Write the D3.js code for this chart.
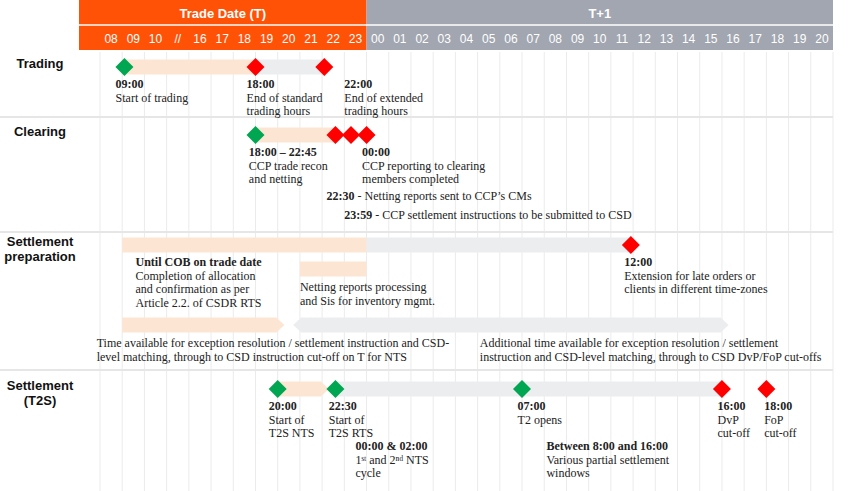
<!DOCTYPE html>
<html><head><meta charset="utf-8">
<script src="https://cdn.jsdelivr.net/npm/d3@7"></script>
<style>body{margin:0;background:#fff}svg{display:block}</style>
</head><body><div id="chart"></div>
<script>
// hour columns: T (trade date) then T+1
const hoursT = ['08','09','10','//','16','17','18','19','20','21','22','23'];
const hoursT1 = ['00','01','02','03','04','05','06','07','08','09','10','11','12','13','14','15','16','17','18','19','20'];
const rowNames = [['Trading'], ['Clearing'], ['Settlement', 'preparation'], ['Settlement', '(T2S)']];

// positions in column units (0 = left edge of the "08" column)
const bars = [
  { row: 0, from: 1.1, to: 7, kind: 'o' },
  { row: 0, from: 7, to: 10.1, kind: 'g' },
  { row: 1, from: 7, to: 10.6, kind: 'o' },
  { row: 2, from: 1, to: 12, kind: 'o' },
  { row: 2, from: 12, to: 23.9, kind: 'g' },
  { row: 2, from: 9, to: 12, kind: 'o', dy: 24 },
  { row: 2, from: 1, to: 8.3, kind: 'o', dy: 80, arrow: 'r' },
  { row: 2, from: 8.7, to: 28.3, kind: 'g', dy: 80, arrow: 'l' },
  { row: 3, from: 8, to: 10.3, kind: 'o', arrow: 'r' },
  { row: 3, from: 10.6, to: 28, kind: 'g' }
];
const marks = [
  { row: 0, at: 1.1, c: 'green' }, { row: 0, at: 7, c: 'red' }, { row: 0, at: 10.1, c: 'red' },
  { row: 1, at: 7, c: 'green' }, { row: 1, at: 10.6, c: 'red' }, { row: 1, at: 11.3, c: 'red' }, { row: 1, at: 12, c: 'red' },
  { row: 2, at: 23.9, c: 'red' },
  { row: 3, at: 8, c: 'green' }, { row: 3, at: 10.6, c: 'green' }, { row: 3, at: 19, c: 'green' },
  { row: 3, at: 28, c: 'red' }, { row: 3, at: 30, c: 'red' }
];
// notes: [row, column pos, line offset, bold head, lines...]
const notes = [
  [0, 0.7, 0, '09:00', 'Start of trading'],
  [0, 6.6, 0, '18:00', 'End of standard', 'trading hours'],
  [0, 11.0, 0, '22:00', 'End of extended', 'trading hours'],
  [1, 6.7, 0, '18:00 – 22:45', 'CCP trade recon', 'and netting'],
  [1, 11.8, 0, '00:00', 'CCP reporting to clearing', 'members completed'],
  [2, 1.6, 0, 'Until COB on trade date', 'Completion of allocation', 'and confirmation as per', 'Article 2.2. of CSDR RTS'],
  [2, 23.6, 0, '12:00', 'Extension for late orders or', 'clients in different time-zones'],
  [3, 7.6, 0, '20:00', 'Start of', 'T2S NTS'],
  [3, 10.3, 0, '22:30', 'Start of', 'T2S RTS'],
  [3, 11.5, 40, '00:00 & 02:00', '1ˢᵗ and 2ⁿᵈ NTS', 'cycle'],
  [3, 18.8, 0, '07:00', 'T2 opens'],
  [3, 20.1, 40, 'Between 8:00 and 16:00', 'Various partial settlement', 'windows'],
  [3, 27.8, 0, '16:00', 'DvP', 'cut-off'],
  [3, 29.9, 0, '18:00', 'FoP', 'cut-off']
];
const inline = [
  [1, 10.2, 65, '22:30', ' - Netting reports sent to CCP’s CMs'],
  [1, 11.0, 84, '23:59', ' - CCP settlement instructions to be submitted to CSD']
];
const plain = [
  [2, 9.0, 46, 'Netting reports processing', 'and Sis for inventory mgmt.'],
  [2, -0.15, 102, 'Time available for exception resolution / settlement instruction and CSD-', 'level matching, through to CSD instruction cut-off on T for NTS'],
  [2, 17.1, 102, 'Additional time available for exception resolution / settlement', 'instruction and CSD-level matching, through to CSD DvP/FoP cut-offs']
];

const W = 850, H = 491;
const rowTop = [52, 117, 232, 370];
const rowMark = [67, 135, 245, 389];
const nCols = hoursT.length + hoursT1.length;
const x = d3.scaleLinear().domain([0, nCols]).range([100, 833]);
const col = d3.scaleBand().domain(d3.range(nCols)).range([100, 833]);
const colors = { o: '#fde5d3', g: '#ecedef', green: '#00a651', red: '#ff0000' };
const serif = '"Liberation Serif", "DejaVu Serif", serif';

const svg = d3.select('#chart').append('svg').attr('width', W).attr('height', H)
  .style('font-family', 'Arial, "Liberation Sans", sans-serif');

// grid
svg.append('g').selectAll('line').data(d3.range(nCols + 1)).join('line')
  .attr('x1', d => x(d)).attr('x2', d => x(d)).attr('y1', 52).attr('y2', H)
  .attr('stroke', '#ebebeb');
svg.append('g').selectAll('line').data(rowTop.slice(1)).join('line')
  .attr('x1', 0).attr('x2', 833).attr('y1', d => d).attr('y2', d => d)
  .attr('stroke', '#e6e6e6').attr('stroke-width', 2);

// header
const head = svg.append('g');
head.append('rect').attr('x', 79).attr('y', 0).attr('width', x(12) - 79).attr('height', 50).attr('fill', '#ff5207');
head.append('rect').attr('x', x(12)).attr('y', 0).attr('width', 833 - x(12)).attr('height', 50).attr('fill', '#a1a6b0');
head.append('line').attr('x1', 79).attr('x2', 833).attr('y1', 25).attr('y2', 25).attr('stroke', '#fff').attr('stroke-width', 1.5);
head.append('text').attr('x', (79 + x(12)) / 2).attr('y', 18).attr('text-anchor', 'middle')
  .attr('fill', '#fff').attr('font-size', 13).attr('font-weight', 'bold').text('Trade Date (T)');
head.append('text').attr('x', (x(12) + 833) / 2).attr('y', 18).attr('text-anchor', 'middle')
  .attr('fill', '#fff').attr('font-size', 13).attr('font-weight', 'bold').text('T+1');
head.selectAll('text.h').data(hoursT.concat(hoursT1)).join('text').attr('class', 'h')
  .attr('x', (d, i) => col(i) + col.bandwidth() / 2).attr('y', 43).attr('text-anchor', 'middle')
  .attr('fill', '#fff').attr('font-size', 12).text(d => d);

// row labels
rowNames.forEach((r, i) => {
  const t = svg.append('text').attr('font-size', 13).attr('font-weight', 'bold').attr('fill', '#111')
    .attr('text-anchor', 'middle').attr('x', 40).attr('y', rowMark[i] + 1);
  r.forEach((s, j) => t.append('tspan').attr('x', 40).attr('dy', j ? 15 : 0).text(s));
});

// bars
const bh = 15;
svg.append('g').selectAll('path').data(bars).join('path')
  .attr('fill', d => colors[d.kind])
  .attr('d', d => {
    const y0 = rowMark[d.row] + (d.dy || 0) - bh / 2, y1 = y0 + bh, ym = y0 + bh / 2;
    const a = x(d.from), b = x(d.to), t = 8;
    if (d.arrow === 'r') return `M${a},${y0}H${b - t}L${b},${ym}L${b - t},${y1}H${a}Z`;
    if (d.arrow === 'l') return `M${a + t},${y0}H${b - t}L${b},${ym}L${b - t},${y1}H${a + t}L${a},${ym}Z`;
    return `M${a},${y0}H${b}V${y1}H${a}Z`;
  });

// diamonds
svg.append('g').selectAll('path').data(marks).join('path')
  .attr('fill', d => colors[d.c])
  .attr('d', d => { const cx = x(d.at), cy = rowMark[d.row], r = 9; return `M${cx},${cy - r}L${cx + r},${cy}L${cx},${cy + r}L${cx - r},${cy}Z`; });

// notes
const txt = svg.append('g').attr('font-family', serif).attr('font-size', 12).attr('fill', '#222');
notes.forEach(([row, at, off, bold, ...lines]) => {
  const t = txt.append('text').attr('x', x(at)).attr('y', rowMark[row] + 21 + off);
  t.append('tspan').attr('font-weight', 'bold').text(bold);
  lines.forEach(l => t.append('tspan').attr('x', x(at)).attr('dy', 13.5).text(l));
});
inline.forEach(([row, at, off, bold, rest]) => {
  const t = txt.append('text').attr('x', x(at)).attr('y', rowMark[row] + off);
  t.append('tspan').attr('font-weight', 'bold').text(bold);
  t.append('tspan').text(rest);
});
plain.forEach(([row, at, off, ...lines]) => {
  const t = txt.append('text').attr('x', x(at)).attr('y', rowMark[row] + off);
  lines.forEach((l, j) => t.append('tspan').attr('x', x(at)).attr('dy', j ? 14 : 0).text(l));
});
</script></body></html>
